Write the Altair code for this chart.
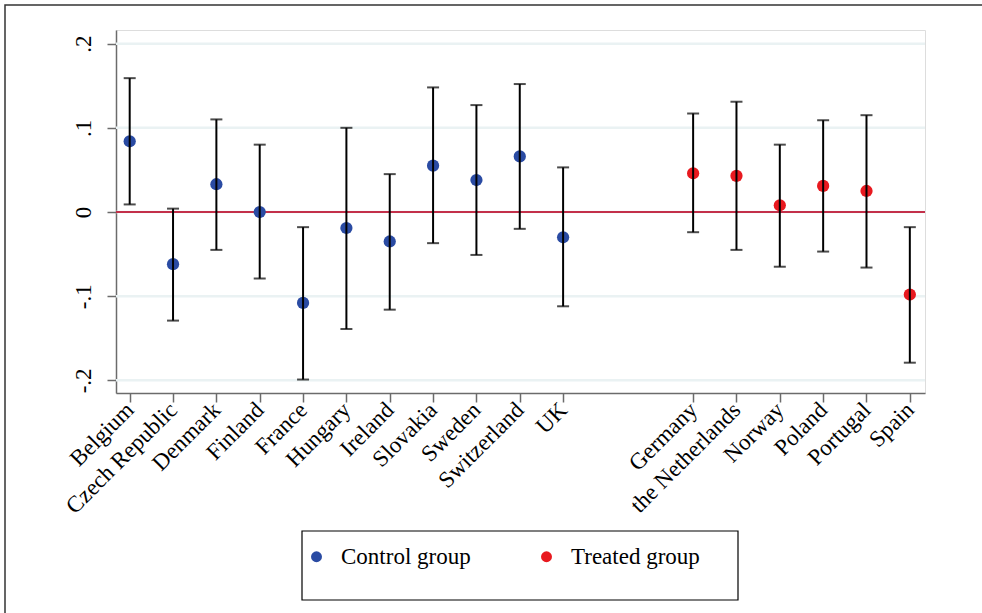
import altair as alt
import pandas as pd

# Country estimates with 95% confidence bounds
countries = ["Belgium", "Czech Republic", "Denmark", "Finland", "France", "Hungary",
             "Ireland", "Slovakia", "Sweden", "Switzerland", "UK",
             "Germany", "the Netherlands", "Norway", "Poland", "Portugal", "Spain"]
groups = ["Control group"] * 11 + ["Treated group"] * 6
# slot on the x axis (two empty slots separate the groups)
slots = [1, 2, 3, 4, 5, 6, 7, 8, 9, 10, 11, 14, 15, 16, 17, 18, 19]
estimate = [0.084, -0.062, 0.033, 0.000, -0.108, -0.019, -0.035, 0.055, 0.038, 0.066, -0.030,
            0.046, 0.043, 0.008, 0.031, 0.025, -0.098]
lower = [0.009, -0.129, -0.045, -0.079, -0.199, -0.139, -0.116, -0.037, -0.051, -0.020, -0.112,
         -0.024, -0.045, -0.065, -0.047, -0.066, -0.179]
upper = [0.159, 0.004, 0.110, 0.080, -0.018, 0.100, 0.045, 0.148, 0.127, 0.152, 0.053,
         0.117, 0.131, 0.080, 0.109, 0.115, -0.018]

y_ticks = [-0.2, -0.1, 0.0, 0.1, 0.2]
y_tick_labels = ["-.2", "-.1", "0", ".1", ".2"]

df = pd.DataFrame({"country": countries, "group": groups, "slot": slots,
                   "est": estimate, "lo": lower, "hi": upper})

# label lookup for each slot position (blank for the empty slots)
slot_labels = [""] * 20
for s, c in zip(slots, countries):
    slot_labels[s] = c
slot_expr = "[" + ",".join("'" + t + "'" for t in slot_labels) + "][round(datum.value)]"
y_expr = "[" + ",".join("'" + t + "'" for t in y_tick_labels) + "][round(datum.value*10)+2]"

FONT = "Liberation Serif"
AXIS_GREY = "#6b6b6b"

x_scale = alt.Scale(domain=[0.684, 19.35], zero=False, nice=False)
y_scale = alt.Scale(domain=[-0.215, 0.2162], zero=False, nice=False)

x_enc = alt.X("slot:Q", scale=x_scale, title=None,
              axis=alt.Axis(values=slots, labelExpr=slot_expr, labelAngle=315,
                            labelAlign="right", labelBaseline="middle", labelPadding=4,
                            labelFont=FONT, labelFontSize=23, labelColor="black",
                            tickSize=9, tickColor=AXIS_GREY, domainColor=AXIS_GREY,
                            domainWidth=1.5, tickWidth=1.5, grid=False, labelOverlap=False,
                            labelBound=False, labelFlush=False))

base = alt.Chart(df)

grid = alt.Chart(pd.DataFrame({"g": y_ticks})).mark_rule(
    color="#eaf2f3", strokeWidth=2.5
).encode(
    y=alt.Y("g:Q", scale=y_scale, title=None,
            axis=alt.Axis(values=y_ticks, labelExpr=y_expr, labelAngle=270,
                          labelAlign="center", labelBaseline="bottom", labelPadding=12,
                          labelFont=FONT, labelFontSize=23, labelColor="black",
                          tickSize=9, tickColor=AXIS_GREY, domainColor=AXIS_GREY,
                          domainWidth=1.5, tickWidth=1.5, grid=False)),
    x=alt.value(0), x2=alt.value(809),
)

zero_line = alt.Chart(pd.DataFrame({"z": [0.0]})).mark_rule(
    color="#c3304a", strokeWidth=2
).encode(y=alt.Y("z:Q", scale=y_scale), x=alt.value(0), x2=alt.value(809))

points = base.mark_circle(size=150, opacity=1).encode(
    x=x_enc,
    y=alt.Y("est:Q", scale=y_scale),
    color=alt.Color("group:N",
                    scale=alt.Scale(domain=["Control group", "Treated group"],
                                    range=["#2a4ba3", "#e8191f"]),
                    legend=alt.Legend(orient="none", legendX=189, legendY=515,
                                      direction="horizontal", title=None,
                                      symbolType="circle", symbolSize=120,
                                      symbolStrokeWidth=0, labelFont=FONT,
                                      labelFontSize=23, labelColor="black",
                                      labelOffset=13, columnPadding=64, padding=0)),
)

bars = base.mark_rule(color="black", strokeWidth=2).encode(
    x="slot:Q", y=alt.Y("lo:Q", scale=y_scale), y2="hi:Q")
cap_lo = base.mark_tick(color="black", orient="horizontal", size=12, thickness=2).encode(
    x="slot:Q", y=alt.Y("lo:Q", scale=y_scale))
cap_hi = base.mark_tick(color="black", orient="horizontal", size=12, thickness=2).encode(
    x="slot:Q", y=alt.Y("hi:Q", scale=y_scale))

# legend frame and outer figure frame
legend_box = alt.Chart(pd.DataFrame({"k": [0]})).mark_rect(
    fill="white", fillOpacity=0, stroke="black", strokeWidth=1.2
).encode(x=alt.value(186), x2=alt.value(622), y=alt.value(501), y2=alt.value(570))
outer_box = alt.Chart(pd.DataFrame({"k": [0]})).mark_rect(
    fillOpacity=0, stroke="#333333", strokeWidth=1.5
).encode(x=alt.value(-111), x2=alt.value(900), y=alt.value(-25), y2=alt.value(620))

chart = alt.layer(
    grid, zero_line, points, bars, cap_lo, cap_hi, legend_box, outer_box
).properties(
    width=809, height=363,
    autosize=alt.AutoSizeParams(type="none"),
    padding={"left": 116, "top": 30, "right": 57, "bottom": 220},
).configure_view(stroke=None).configure(background="white")

chart.save("out.html", embed_options={"renderer": "svg", "actions": False})
